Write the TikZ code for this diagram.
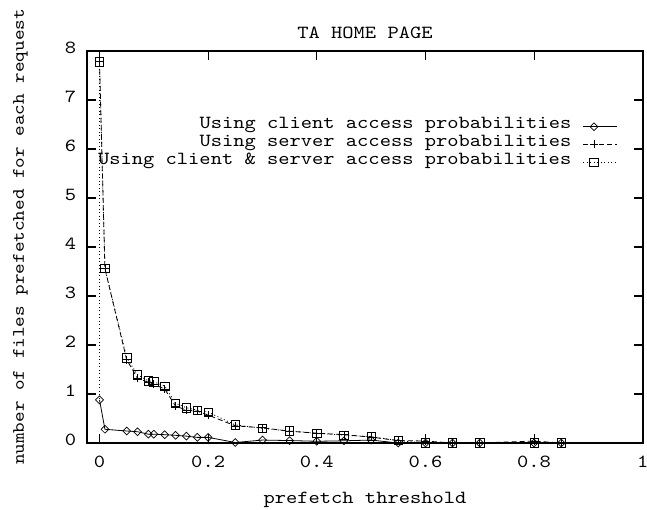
\documentclass[tikz,border=0pt]{standalone}
\usepackage{fontspec}
\newfontfamily\cour{lmmono10-regular.otf}[FakeStretch=1.16]
\begin{document}
\begin{tikzpicture}[x=1pt,y=1pt,
  lbl/.style={font=\cour\fontsize{18.5}{20}\selectfont, inner sep=0pt},
  ylbl/.style={font=\cour\fontsize{17.4}{20}\selectfont, inner sep=0pt},
  frame/.style={line width=1.7pt},
  tick/.style={line width=1.1pt},
  clientline/.style={line width=0.8pt},
  serverline/.style={line width=0.8pt, dash pattern=on 5pt off 3pt},
  bothline/.style={line width=0.8pt, dash pattern=on 1pt off 2.5pt},
  dmark/.pic={\draw[line width=0.7pt,solid] (-3.9pt,0pt)--(0pt,3.9pt)--(3.9pt,0pt)--(0pt,-3.9pt)--cycle;},
  pmark/.pic={\draw[line width=0.7pt,solid] (-4pt,0pt)--(4pt,0pt) (0pt,-4pt)--(0pt,4pt);},
  smark/.pic={\draw[line width=0.7pt,solid] (-4.2pt,-4.2pt) rectangle (4.2pt,4.2pt);}
]
\useasboundingbox (0,0) rectangle (647,509);

% axis titles
\node[lbl, anchor=base] (title) at (365,470.5) {TA HOME PAGE};
\node[lbl, anchor=base] (xlabel) at (365,6) {prefetch threshold};
\node[ylbl, anchor=base, rotate=90] (ylabel) at (24,272) {number of files prefetched for each request};

% data frame: x in [-0.0225,1], y in [0,8]
\begin{scope}[shift={(99.5,66)}, x=543.2pt, y=49pt]
  \draw[frame] (-0.0225,0) rectangle (1,8);
  % x ticks (bottom and mirrored top) with labels
  \foreach \x/\t in {0/0, 0.2/0.2, 0.4/0.4, 0.6/0.6, 0.8/0.8, 1/1} {
    \draw[tick] (\x,0) -- ++(0pt,9pt);
    \draw[tick] (\x,8) -- ++(0pt,-9pt);
    \node[lbl, anchor=base] (xt\t) at ([yshift=-24pt]\x,0) {\t};
  }
  % y ticks (left and mirrored right) with labels
  \foreach \y in {0,...,8} {
    \draw[tick] (-0.0225,\y) -- ++(9pt,0pt);
    \draw[tick] (1,\y) -- ++(-9pt,0pt);
    \node[lbl, anchor=mid east] (yt\y) at ([xshift=-11pt]-0.0225,\y) {\y};
  }

  % using client access probabilities
  \draw[clientline] plot coordinates {(0,0.88) (0.01,0.28) (0.05,0.245) (0.07,0.23) (0.09,0.18) (0.1,0.18) (0.12,0.17) (0.14,0.157) (0.16,0.14) (0.18,0.115) (0.2,0.115) (0.25,0.01) (0.3,0.06) (0.35,0.05) (0.4,0.035) (0.45,0.045) (0.5,0.06) (0.55,0) (0.6,0) (0.65,0) (0.7,0) (0.8,0) (0.85,0)};
  \foreach \p in {(0,0.88),(0.01,0.28),(0.05,0.245),(0.07,0.23),(0.09,0.18),(0.1,0.18),(0.12,0.17),(0.14,0.157),(0.16,0.14),(0.18,0.115),(0.2,0.115),(0.25,0.01),(0.3,0.06),(0.35,0.05),(0.4,0.035),(0.45,0.045),(0.5,0.06),(0.55,0),(0.6,0),(0.65,0),(0.7,0),(0.8,0),(0.85,0)}
    \pic at \p {dmark};

  % using server access probabilities
  \draw[serverline] plot coordinates {(0,7.78) (0.01,3.56) (0.05,1.7) (0.07,1.32) (0.09,1.24) (0.1,1.2) (0.12,1.1) (0.14,0.755) (0.16,0.67) (0.18,0.65) (0.2,0.57) (0.25,0.35) (0.3,0.31) (0.35,0.24) (0.4,0.2) (0.45,0.17) (0.5,0.12) (0.55,0.05) (0.6,0.04) (0.65,0) (0.7,0) (0.8,0.04) (0.85,0)};
  \foreach \p in {(0,7.78),(0.01,3.56),(0.05,1.7),(0.07,1.32),(0.09,1.24),(0.1,1.2),(0.12,1.1),(0.14,0.755),(0.16,0.67),(0.18,0.65),(0.2,0.57),(0.25,0.35),(0.3,0.31),(0.35,0.24),(0.4,0.2),(0.45,0.17),(0.5,0.12),(0.55,0.05),(0.6,0.04),(0.65,0),(0.7,0),(0.8,0.04),(0.85,0)}
    \pic at \p {pmark};

  % using client & server access probabilities
  \draw[bothline] (0,7.78) -- (0,0.88);
  \draw[bothline] plot coordinates {(0,7.78) (0.01,3.56) (0.05,1.74) (0.07,1.39) (0.09,1.27) (0.1,1.25) (0.12,1.16) (0.14,0.81) (0.16,0.72) (0.18,0.67) (0.2,0.63) (0.25,0.37) (0.3,0.3) (0.35,0.245) (0.4,0.2) (0.45,0.16) (0.5,0.13) (0.55,0.05) (0.6,0) (0.65,0) (0.7,0) (0.8,0) (0.85,0)};
  \foreach \p in {(0,7.78),(0.01,3.56),(0.05,1.74),(0.07,1.39),(0.09,1.27),(0.1,1.25),(0.12,1.16),(0.14,0.81),(0.16,0.72),(0.18,0.67),(0.2,0.63),(0.25,0.37),(0.3,0.3),(0.35,0.245),(0.4,0.2),(0.45,0.16),(0.5,0.13),(0.55,0.05),(0.6,0),(0.65,0),(0.7,0),(0.8,0),(0.85,0)}
    \pic at \p {smark};
\end{scope}

% key
\node[lbl, anchor=mid east] (key1) at (571.5,382.3) {Using client access probabilities};
\node[lbl, anchor=mid east] (key2) at (571.5,364.5) {Using server access probabilities};
\node[lbl, anchor=mid east] (key3) at (571.5,346.7) {Using client \& server access probabilities};
\coordinate (k1a) at (583,382.3); \coordinate (k1b) at (617,382.3);
\coordinate (k2a) at (583,364.5); \coordinate (k2b) at (617,364.5);
\coordinate (k3a) at (583,346.7); \coordinate (k3b) at (617,346.7);
\draw[clientline] (k1a) -- (k1b);
\draw[serverline] (k2a) -- (k2b);
\draw[bothline] (k3a) -- (k3b);
\pic at (594,382.3) {dmark};
\pic at (594,364.5) {pmark};
\pic at (594,346.7) {smark};
\end{tikzpicture}
\end{document}
